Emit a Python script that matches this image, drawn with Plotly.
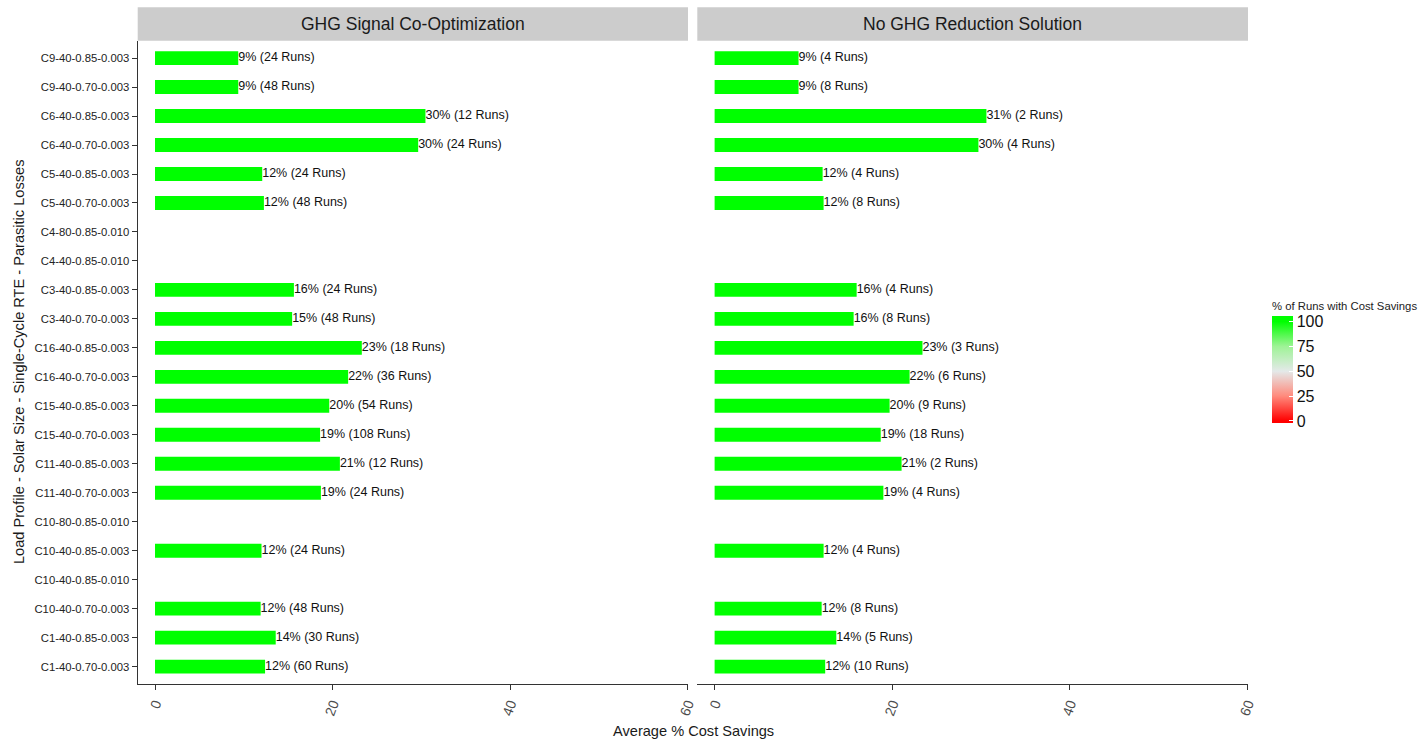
import math
import plotly.graph_objects as go

# Configurations, listed bottom to top
categories = [
    "C1-40-0.70-0.003", "C1-40-0.85-0.003", "C10-40-0.70-0.003", "C10-40-0.85-0.010",
    "C10-40-0.85-0.003", "C10-80-0.85-0.010", "C11-40-0.70-0.003", "C11-40-0.85-0.003",
    "C15-40-0.70-0.003", "C15-40-0.85-0.003", "C16-40-0.70-0.003", "C16-40-0.85-0.003",
    "C3-40-0.70-0.003", "C3-40-0.85-0.003", "C4-40-0.85-0.010", "C4-80-0.85-0.010",
    "C5-40-0.70-0.003", "C5-40-0.85-0.003", "C6-40-0.70-0.003", "C6-40-0.85-0.003",
    "C9-40-0.70-0.003", "C9-40-0.85-0.003",
]

# Average % cost savings and number of runs per configuration
ghg_savings = [12.4, 13.6, 11.9, None, 12.0, None, 18.69, 20.83, 18.6, 19.63, 21.76, 23.3,
               15.45, 15.65, None, None, 12.27, 12.08, 29.65, 30.47, 9.38, 9.38]
ghg_runs = [60, 30, 48, None, 24, None, 24, 12, 108, 54, 36, 18,
            48, 24, None, None, 48, 24, 24, 12, 48, 24]

nog_savings = [12.45, 13.7, 12.05, None, 12.27, None, 19.0, 21.05, 18.7, 19.7, 21.95, 23.4,
               15.65, 15.99, None, None, 12.27, 12.16, 29.7, 30.6, 9.45, 9.45]
nog_runs = [10, 5, 8, None, 4, None, 4, 2, 18, 9, 6, 3,
            8, 4, None, None, 8, 4, 4, 2, 8, 4]

# Share of runs with cost savings (bar fill)
ghg_pct_saving = [math.nan if v is None else 100 for v in ghg_savings]
nog_pct_saving = [math.nan if v is None else 100 for v in nog_savings]

panel_titles = ["GHG Signal Co-Optimization", "No GHG Reduction Solution"]
x_ticks = [0, 20, 40, 60]
legend_ticks = [0, 25, 50, 75, 100]

W, H = 1418, 742
FONT = "Liberation Sans, Arial, sans-serif"


def px_x(p):
    return p / W


def px_y(p):
    return 1 - p / H


def labels(vals, runs):
    out = []
    for v, r in zip(vals, runs):
        out.append("" if v is None else f"{int(v + 0.5)}% ({r} Runs)")
    return out


fig = go.Figure()

panels = [
    ("x", ghg_savings, ghg_runs, ghg_pct_saving),
    ("x2", nog_savings, nog_runs, nog_pct_saving),
]
for xa, vals, runs, pct in panels:
    fig.add_trace(go.Bar(
        x=vals, y=categories, orientation="h", xaxis=xa, yaxis="y",
        width=0.48,
        marker=dict(color=pct, coloraxis="coloraxis", line=dict(width=0)),
        hoverinfo="skip", showlegend=False,
    ))
    fig.add_trace(go.Scatter(
        x=vals, y=categories, xaxis=xa, yaxis="y", mode="text",
        text=labels(vals, runs), textposition="middle right",
        textfont=dict(family=FONT, size=12.5, color="#111111"),
        hoverinfo="skip", showlegend=False, cliponaxis=False,
    ))

left_dom = [px_x(137.7), px_x(688)]
right_dom = [px_x(697.3), px_x(1248)]
plot_top, plot_bot = 40.7, 684

axis_common = dict(
    range=[-1.95, 60.05], tickvals=x_ticks, ticks="outside", ticklen=5,
    tickcolor="#333333", tickwidth=1, showline=True, linecolor="#333333",
    linewidth=1.3, showgrid=False, zeroline=False, tickangle=-70,
    tickfont=dict(family=FONT, size=14, color="#4d4d4d"), anchor="y",
    fixedrange=True, automargin=False,
)

# Legend bar runs slightly past its end labels at both ends
c_lo, c_hi = -2.05, 105.6
span = c_hi - c_lo


def stop(v):
    return (v - c_lo) / span


fig.update_layout(
    width=W, height=H,
    margin=dict(l=0, r=0, t=0, b=0, autoexpand=False),
    paper_bgcolor="white", plot_bgcolor="white",
    barmode="overlay",
    xaxis=dict(domain=left_dom, **axis_common),
    xaxis2=dict(domain=right_dom, **axis_common),
    yaxis=dict(
        domain=[px_y(plot_bot), px_y(plot_top)],
        type="category", categoryorder="array", categoryarray=categories,
        range=[-0.6, len(categories) - 0.4],
        ticks="outside", ticklen=5, tickcolor="#333333", tickwidth=1,
        showline=True, linecolor="#333333", linewidth=1.3,
        showgrid=False, zeroline=False, anchor="x",
        tickfont=dict(family=FONT, size=11.3, color="#222222"),
        fixedrange=True, automargin=False,
    ),
    coloraxis=dict(
        cmin=c_lo, cmax=c_hi,
        colorscale=[
            [0.0, "#FF0000"], [stop(0), "#FF0000"], [stop(25), "#FF8A7C"],
            [stop(50), "#E4E9E9"], [stop(75), "#9EF396"],
            [stop(100), "#00FF00"], [1.0, "#00FF00"],
        ],
        colorbar=dict(
            title=dict(text="% of Runs with Cost Savings", side="top",
                       font=dict(family=FONT, size=11.3, color="#222222")),
            x=px_x(1272), xanchor="left", y=px_y(423), yanchor="bottom",
            thickness=21, thicknessmode="pixels",
            len=124, lenmode="pixels",
            tickvals=legend_ticks, ticks="inside", ticklen=4, tickcolor="white",
            tickfont=dict(family=FONT, size=16, color="#111111"),
            outlinewidth=0, xpad=0, ypad=0,
        ),
    ),
    font=dict(family=FONT),
)

# Facet strips with titles
strip_top, strip_bot = 7.3, 40.7
for dom, title in zip([left_dom, right_dom], panel_titles):
    fig.add_shape(type="rect", xref="paper", yref="paper",
                  x0=dom[0], x1=dom[1], y0=px_y(strip_bot), y1=px_y(strip_top),
                  fillcolor="#CCCCCC", line=dict(width=0), layer="below")
    fig.add_annotation(xref="paper", yref="paper", x=(dom[0] + dom[1]) / 2,
                       y=px_y((strip_top + strip_bot) / 2), text=title,
                       showarrow=False, xanchor="center", yanchor="middle",
                       font=dict(family=FONT, size=17.5, color="#1a1a1a"))

# Axis titles
fig.add_annotation(xref="paper", yref="paper", x=px_x(693), y=px_y(731),
                   text="Average % Cost Savings", showarrow=False,
                   xanchor="center", yanchor="middle",
                   font=dict(family=FONT, size=14.6, color="#1a1a1a"))
fig.add_annotation(xref="paper", yref="paper", x=px_x(19), y=px_y(362),
                   text="Load Profile - Solar Size - Single-Cycle RTE - Parasitic Losses",
                   showarrow=False, textangle=-90, xanchor="center", yanchor="middle",
                   font=dict(family=FONT, size=14.6, color="#1a1a1a"))

fig.write_html("out.html")
